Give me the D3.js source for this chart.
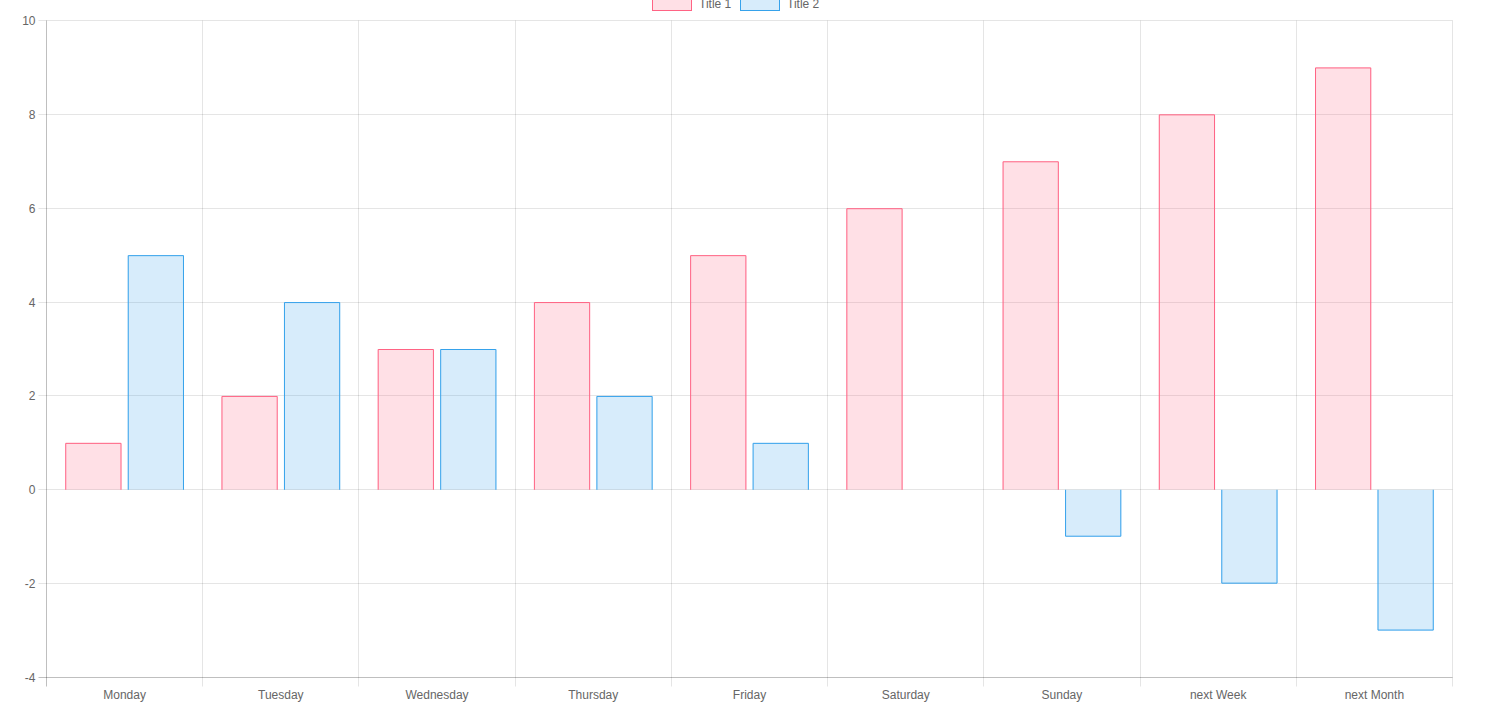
<!DOCTYPE html>
<html><head><meta charset="utf-8">
<script src="https://cdn.jsdelivr.net/npm/d3@7"></script>
<style>
html,body{margin:0;padding:0;background:#fff;overflow:hidden}
text{font-family:"Liberation Sans",Arial,Helvetica,sans-serif;}
</style></head>
<body>
<svg id="chart" width="1496" height="721"></svg>
<script>
const categories = ["Monday","Tuesday","Wednesday","Thursday","Friday","Saturday","Sunday","next Week","next Month"];
const seriesNames = ["Title 1","Title 2"];
const title1Values = [1,2,3,4,5,6,7,8,9];
const title2Values = [5,4,3,2,1,0,-1,-2,-3];
const yTicks = [-4,-2,0,2,4,6,8,10];

const fills = ["rgba(255,99,132,0.2)","rgba(54,162,235,0.2)"];
const strokes = ["rgb(255,99,132)","rgb(54,162,235)"];
const series = [title1Values, title2Values];

const svg = d3.select("#chart");
const plotL = 46.5, plotR = 1452.5, plotT = 20.5, plotB = 677.5;

const x = d3.scaleBand().domain(categories).range([plotL, plotR]).paddingInner(0).paddingOuter(0);
const y = d3.scaleLinear().domain([-4,10]).range([plotB, plotT]);

// grid
const g = svg.append("g");
yTicks.forEach(t => {
  const yy = Math.floor(y(t)) + 0.5;
  g.append("line").attr("x1", plotL - 8).attr("x2", plotR).attr("y1", yy).attr("y2", yy)
   .attr("stroke", t === -4 ? "rgba(0,0,0,0.25)" : "rgba(0,0,0,0.1)").attr("stroke-width", 1);
  g.append("text").attr("x", plotL - 11).attr("y", yy).attr("text-anchor","end")
   .attr("dominant-baseline","central").attr("font-size",12).attr("fill","#666").text(t);
});
for (let i = 0; i <= categories.length; i++) {
  const xx = Math.round(plotL + i * x.bandwidth() - 0.5) + 0.5;
  g.append("line").attr("x1", xx).attr("x2", xx).attr("y1", plotT).attr("y2", plotB + 9)
   .attr("stroke", i === 0 ? "rgba(0,0,0,0.25)" : "rgba(0,0,0,0.1)").attr("stroke-width", 1);
}
categories.forEach(c => {
  g.append("text").attr("x", x(c) + x.bandwidth()/2).attr("y", 695).attr("text-anchor","middle")
   .attr("dominant-baseline","central").attr("font-size",12).attr("fill","#666").text(c);
});

// bars (Chart.js style: categoryPercentage 0.8, barPercentage 0.9)
const catW = x.bandwidth() * 0.8;
const slot = catW / 2;
const barW = slot * 0.9;
series.forEach((vals, si) => {
  vals.forEach((v, i) => {
    if (v === 0) return;
    const cx = x(categories[i]) + x.bandwidth()*0.1 + slot*si + slot/2;
    const x0 = cx - barW/2, x1 = cx + barW/2;
    const y0 = y(0), y1 = y(v);
    const ytop = Math.min(y0,y1), h = Math.abs(y1-y0);
    svg.append("rect").attr("x", x0).attr("y", ytop).attr("width", barW).attr("height", h).attr("fill", fills[si]);
    const p = d3.path();
    const ye = y1 + (v > 0 ? 0.5 : -0.5);
    p.moveTo(x0 + 0.5, y0); p.lineTo(x0 + 0.5, ye); p.lineTo(x1 - 0.5, ye); p.lineTo(x1 - 0.5, y0);
    svg.append("path").attr("d", p.toString()).attr("fill","none").attr("stroke", strokes[si]).attr("stroke-width",1);
  });
});

// legend
const legX = [652, 740];
seriesNames.forEach((n, i) => {
  svg.append("rect").attr("x", legX[i] + 0.5).attr("y", -1.5).attr("width", 39).attr("height", 12)
   .attr("fill", fills[i]).attr("stroke", strokes[i]).attr("stroke-width", 1);
  svg.append("text").attr("x", legX[i] + 47).attr("y", 4).attr("dominant-baseline","central")
   .attr("font-size",12).attr("fill","#666").text(n);
});
</script>
</body></html>
